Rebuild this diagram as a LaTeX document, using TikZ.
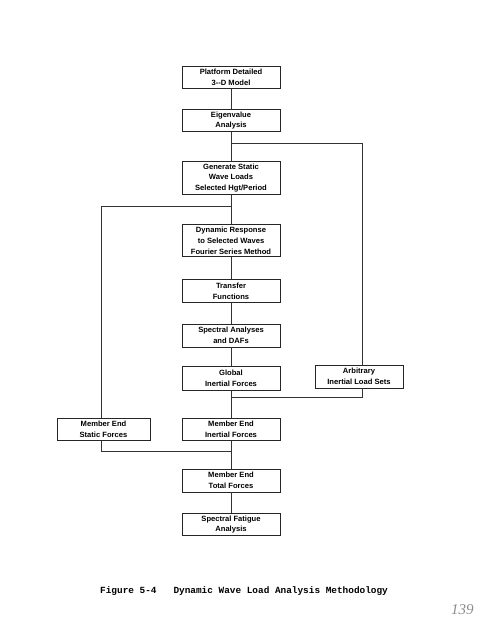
\documentclass[tikz,border=0pt]{standalone}
\usepackage{fontspec}
\newfontfamily\boxfont{Liberation Sans}
\newfontfamily\capfont{Liberation Mono}
\newfontfamily\handfont{Liberation Serif}
\begin{document}
\begin{tikzpicture}[x=1pt,y=-1pt,
  stepbox/.style={draw=black!85,line width=0.9pt,fill=white,minimum width=98pt,
    inner sep=0pt,align=center,font=\boxfont\bfseries\fontsize{7.6}{10.8}\selectfont},
  link/.style={draw=black!80,line width=0.75pt}]
\useasboundingbox (0,0) rectangle (500,635);
\fill[white] (0,0) rectangle (500,635);
% boxes
\node[stepbox,minimum height=22pt] (pm) at (231,77.5) {Platform Detailed\\3--D Model};
\node[stepbox,minimum height=22pt] (ev) at (231,120.5) {Eigenvalue\\Analysis};
\node[stepbox,minimum height=33pt] (gs) at (231,178) {Generate Static\\Wave Loads\\Selected Hgt/Period};
\node[stepbox,minimum height=32pt] (dr) at (231,240.5) {Dynamic Response\\to Selected Waves\\Fourier Series Method};
\node[stepbox,minimum height=23pt] (tf) at (231,291) {Transfer\\Functions};
\node[stepbox,minimum height=23pt] (sa) at (231,335.5) {Spectral Analyses\\and DAFs};
\node[stepbox,minimum height=24pt] (gi) at (231,378.5) {Global\\Inertial Forces};
\node[stepbox,minimum height=23pt,minimum width=88pt] (ar) at (359,376.5) {Arbitrary\\Inertial Load Sets};
\node[stepbox,minimum height=22pt,minimum width=93pt] (ms) at (103.5,429.5) {Member End\\Static Forces};
\node[stepbox,minimum height=22pt] (mi) at (231,429.5) {Member End\\Inertial Forces};
\node[stepbox,minimum height=23pt] (mt) at (231,480.5) {Member End\\Total Forces};
\node[stepbox,minimum height=22pt] (sf) at (231,524.5) {Spectral Fatigue\\Analysis};
% bend coordinates
\coordinate (b1) at (231,143);
\coordinate (b2) at (362,143);
\coordinate (b3) at (231,206);
\coordinate (b4) at (101,206);
\coordinate (b5) at (231,397);
\coordinate (b6) at (362,397);
\coordinate (b7) at (101,451);
\coordinate (b8) at (231,451);
% connectors
\path[link] (pm) -- (ev);
\path[link] (ev) -- (gs);
\path[link] (b1) -- (b2) -- (b2 |- ar.north);
\path[link] (gs) -- (dr);
\path[link] (b3) -- (b4) -- (b4 |- ms.north);
\path[link] (dr) -- (tf);
\path[link] (tf) -- (sa);
\path[link] (sa) -- (gi);
\path[link] (gi) -- (mi);
\path[link] (b5) -- (b6) -- (b6 |- ar.south);
\path[link] (b7 |- ms.south) -- (b7) -- (b8);
\path[link] (mi) -- (mt);
\path[link] (mt) -- (sf);
% caption
\node[font=\capfont\bfseries\fontsize{9.4}{11}\selectfont,anchor=base west,inner sep=0pt] (cap) at (100,593) {Figure 5-4\ \ \ Dynamic Wave Load Analysis Methodology};
\node[font=\handfont\itshape\fontsize{15}{15}\selectfont,text=black!45,anchor=base west,inner sep=0pt] (pg) at (451,614) {139};
\end{tikzpicture}
\end{document}
